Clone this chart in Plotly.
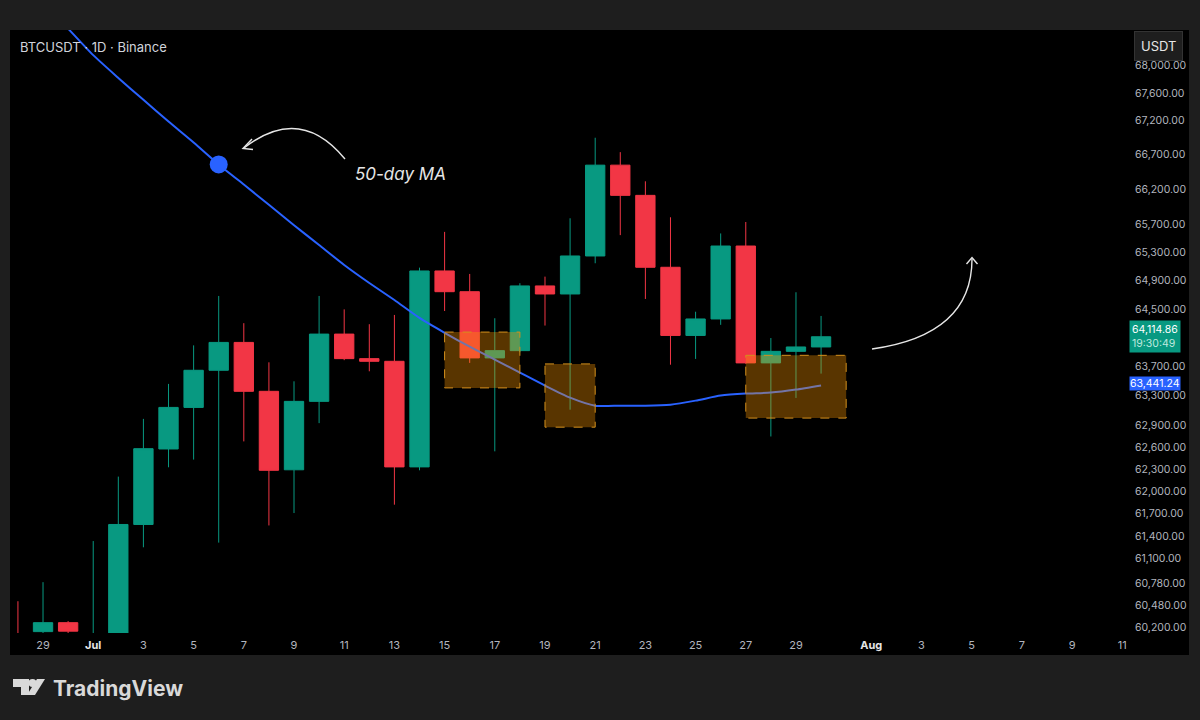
import math
import plotly.graph_objects as go

# ---------------- data ----------------
dates = ["2024-06-28", "2024-06-29", "2024-06-30"] + [f"2024-07-{d:02d}" for d in range(1, 31)]
opens = [60080, 60140, 60257, 59900, 60050, 61555, 62572, 63139, 63650, 64036, 63360,
         62290, 63222, 64152, 63811, 63774, 62329, 65037, 64745, 63821, 63922, 64826,
         64713, 65249, 66548, 66113, 65089, 64133, 64363, 65390, 63752, 63912, 63973]
highs = [60538, 60789, 60278, 61334, 62198, 62982, 63462, 63995, 64685, 64304, 63760,
         63498, 64685, 64497, 64290, 64419, 65084, 65591, 64995, 64373, 64864, 64957,
         65785, 66945, 66736, 66315, 65799, 64464, 65569, 65732, 64097, 64737, 64405]
lows = [59800, 60050, 60050, 59700, 59950, 61251, 62324, 62428, 61313, 62675, 61542,
        61708, 62924, 63790, 63636, 61820, 62283, 64474, 63752, 62540, 63900, 64271,
        63108, 65146, 65545, 64643, 63727, 63807, 64281, 63740, 62742, 63269, 63604]
closes = [59900, 60257, 60146, 60050, 61555, 62576, 63139, 63650, 64036, 63360, 62283,
          63222, 64152, 63811, 63774, 62329, 65037, 64745, 63821, 63922, 64826, 64713,
          65249, 66548, 66113, 65089, 64133, 64363, 65390, 63752, 63912, 63973, 64114.86]

ma_dates = ["2024-06-29", "2024-06-30"] + [f"2024-07-{d:02d}" for d in range(1, 31)]
ma_values = [68959, 68550, 68156, 67820, 67498, 67181, 66877, 66558, 66268, 65978, 65686,
             65404, 65122, 64868, 64628, 64377, 64170, 63977, 63798, 63618, 63439, 63273,
             63163, 63163, 63163, 63177, 63232, 63301, 63329, 63343, 63384, 63441.24]
ma_marker_date = "2024-07-06"
ma_marker_value = 66558

zone_x0 = ["2024-07-15", "2024-07-19", "2024-07-27"]
zone_x1 = ["2024-07-18", "2024-07-21", "2024-07-31"]
zone_top = [64180, 63738, 63857]
zone_bottom = [63407, 62869, 62993]

y_ticks = [60200, 60480, 60780, 61100, 61400, 61700, 62000, 62300, 62600, 62900, 63300,
           63700, 64500, 64900, 65300, 65700, 66200, 66700, 67200, 67600, 68000]
x_tick_dates = ["2024-06-29", "2024-07-01", "2024-07-03", "2024-07-05", "2024-07-07",
                "2024-07-09", "2024-07-11", "2024-07-13", "2024-07-15", "2024-07-17",
                "2024-07-19", "2024-07-21", "2024-07-23", "2024-07-25", "2024-07-27",
                "2024-07-29", "2024-08-01", "2024-08-03", "2024-08-05", "2024-08-07",
                "2024-08-09", "2024-08-11"]
x_tick_labels = ["29", "Jul", "3", "5", "7", "9", "11", "13", "15", "17", "19", "21", "23",
                 "25", "27", "29", "Aug", "3", "5", "7", "9", "11"]

last_price = 64114.86
last_time = "19:30:49"
ma_last = 63441.24

# ---------------- layout geometry ----------------
W_PX, H_PX = 1200, 720
L, R, T, B = 12, 1128, 30, 633


def px(x):
    return (x - L) / (R - L)


def py(y):
    return (B - y) / (B - T)


GREEN = "#089981"
RED = "#f23645"
BLUE = "#2962ff"
TICK = "#b2b5be"

fig = go.Figure()

fig.add_trace(go.Candlestick(
    x=dates, open=opens, high=highs, low=lows, close=closes,
    increasing=dict(line=dict(color=GREEN, width=1), fillcolor=GREEN),
    decreasing=dict(line=dict(color=RED, width=1), fillcolor=RED),
    whiskerwidth=0, hoverinfo="skip", showlegend=False,
))

fig.add_trace(go.Scatter(
    x=ma_dates, y=ma_values, mode="lines",
    line=dict(color=BLUE, width=2, shape="spline", smoothing=0.6),
    hoverinfo="skip", showlegend=False,
))

for x0, x1, top, bot in zip(zone_x0, zone_x1, zone_top, zone_bottom):
    fig.add_trace(go.Scatter(
        x=[x0, x1, x1, x0, x0], y=[top, top, bot, bot, top], mode="lines",
        fill="toself", fillcolor="rgba(255,152,0,0.35)",
        line=dict(color="#d4901c", width=1, dash="dash"),
        hoverinfo="skip", showlegend=False,
    ))

fig.add_trace(go.Scatter(
    x=[ma_marker_date], y=[ma_marker_value], mode="markers",
    marker=dict(color=BLUE, size=18), hoverinfo="skip", showlegend=False,
))

shapes = []
# black chart panel
shapes.append(dict(type="rect", xref="paper", yref="paper",
                   x0=px(10), x1=px(1189), y0=py(655), y1=py(30),
                   fillcolor="#000000", line=dict(width=0), layer="below"))


def path(points, close=False):
    s = "M " + " L ".join(f"{px(x):.5f},{py(y):.5f}" for x, y in points)
    return s + (" Z" if close else "")


def qpath(p0, c, p1):
    return (f"M {px(p0[0]):.5f},{py(p0[1]):.5f} Q {px(c[0]):.5f},{py(c[1]):.5f} "
            f"{px(p1[0]):.5f},{py(p1[1]):.5f}")


arrow_style = dict(color="#e6e6e6", width=1.4)
# arrow 1 (toward MA dot)
shapes.append(dict(type="path", xref="paper", yref="paper",
                   path=qpath((345, 159), (300, 104), (244, 148)), line=arrow_style))
shapes.append(dict(type="path", xref="paper", yref="paper",
                   path=path([(252, 139), (243, 148.5), (253, 149.5)]), line=arrow_style))
# arrow 2 (upward)
shapes.append(dict(type="path", xref="paper", yref="paper",
                   path=qpath((872, 349), (972, 335), (972, 259)), line=arrow_style))
shapes.append(dict(type="path", xref="paper", yref="paper",
                   path=path([(966.5, 264), (972, 257.5), (977.5, 264)]), line=arrow_style))

# TradingView logo glyph
LOGO = "#d9d9d9"
shapes.append(dict(type="path", xref="paper", yref="paper",
                   path=path([(13, 679), (29, 679), (29, 695), (21, 695), (21, 687), (13, 687)], True),
                   fillcolor=LOGO, line=dict(width=0)))
shapes.append(dict(type="circle", xref="paper", yref="paper",
                   x0=px(28.5), x1=px(36.5), y0=py(687), y1=py(679),
                   fillcolor=LOGO, line=dict(width=0)))
shapes.append(dict(type="path", xref="paper", yref="paper",
                   path=path([(37, 679), (45, 679), (35, 695), (27, 695)], True),
                   fillcolor=LOGO, line=dict(width=0)))

annotations = [
    dict(text="BTCUSDT · 1D · Binance", xref="paper", yref="paper", x=px(18), y=py(47),
         xanchor="left", yanchor="middle", showarrow=False,
         font=dict(family="Inter, Roboto, sans-serif", size=13, color="#d1d4dc")),
    dict(text="<i>50-day MA</i>", xref="paper", yref="paper", x=px(400), y=py(174),
         xanchor="center", yanchor="middle", showarrow=False,
         font=dict(family="Inter, Roboto, sans-serif", size=17, color="#e6e6e6")),
    dict(text="<b>TradingView</b>", xref="paper", yref="paper", x=px(51), y=py(688),
         xanchor="left", yanchor="middle", showarrow=False,
         font=dict(family="Inter, Roboto, sans-serif", size=21, color=LOGO)),
    dict(text="USDT", xref="paper", yref="paper", x=px(1158.5), y=py(46),
         xanchor="center", yanchor="middle", showarrow=False,
         bgcolor="#1e1e1e", bordercolor="#333333", borderwidth=1, borderpad=6,
         font=dict(family="Inter, Roboto, sans-serif", size=13, color="#e6e6e6")),
    dict(text=f"{last_price:,.2f}<br><span style='color:#bfe9df'>{last_time}</span>",
         xref="paper", yref="y", x=px(1129), y=math.log10(last_price),
         xanchor="left", yanchor="middle", showarrow=False, align="left",
         bgcolor=GREEN, borderpad=2,
         font=dict(family="Inter, Roboto, sans-serif", size=10.5, color="#ffffff")),
    dict(text=f"{ma_last:,.2f}", xref="paper", yref="y", x=px(1129), y=math.log10(ma_last),
         xanchor="left", yanchor="bottom", yshift=-6, showarrow=False, align="left",
         bgcolor=BLUE, borderpad=0,
         font=dict(family="Inter, Roboto, sans-serif", size=10.5, color="#ffffff")),
]

tick_text = []
for lbl in x_tick_labels:
    if lbl in ("Jul", "Aug"):
        tick_text.append(f"<b><span style='color:#e6e6e6'>{lbl}</span></b>")
    else:
        tick_text.append(lbl)

fig.update_layout(
    width=W_PX, height=H_PX,
    margin=dict(l=L, r=W_PX - R, t=T, b=H_PX - B, pad=0),
    paper_bgcolor="#1e1e1e", plot_bgcolor="#000000",
    boxgap=0.23, boxgroupgap=0,
    shapes=shapes, annotations=annotations,
    showlegend=False, hovermode=False,
    xaxis=dict(
        type="date", range=["2024-06-27 18:20", "2024-08-11 05:30"],
        rangeslider=dict(visible=False),
        tickmode="array", tickvals=x_tick_dates, ticktext=tick_text,
        showgrid=False, zeroline=False, showline=False, ticks="",
        tickfont=dict(family="Inter, Roboto, sans-serif", size=11, color=TICK),
        ticklabelstandoff=4,
    ),
    yaxis=dict(
        type="log", side="right",
        range=[math.log10(60122), math.log10(68529)],
        tickmode="array", tickvals=y_ticks, ticktext=[f"{v:,.2f}" for v in y_ticks],
        showgrid=False, zeroline=False, showline=False, ticks="",
        tickfont=dict(family="Inter, Roboto, sans-serif", size=10.5, color=TICK),
        ticklabelstandoff=6,
    ),
)

fig.write_html("out.html")
